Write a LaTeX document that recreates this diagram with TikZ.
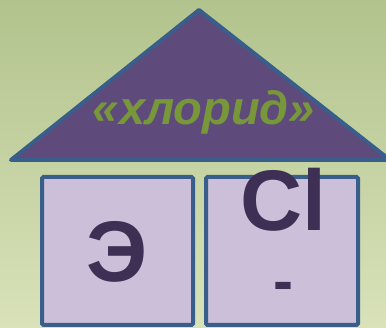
\documentclass[tikz,border=0pt]{standalone}
\usepackage{fontspec}
\setmainfont{Liberation Sans}
\definecolor{bgtop}{HTML}{B2C38D}
\definecolor{bgbot}{HTML}{D9E2B9}
\definecolor{roofc}{HTML}{5F4B7B}
\definecolor{edgec}{HTML}{3A5E8B}
\definecolor{boxc}{HTML}{CBBFD9}
\definecolor{inkc}{HTML}{3E2F54}
\definecolor{greenc}{HTML}{77973A}
\tikzset{
  cell/.style={draw=edgec, fill=boxc, line width=4pt, rounded corners=1.5pt},
  bigtxt/.style={text=inkc, font=\fontsize{86}{86}\selectfont\bfseries, inner sep=0pt},
  roof/.style={draw=edgec, fill=roofc, line width=4pt, line join=round},
}
\begin{document}
\begin{tikzpicture}[x=1pt,y=-1pt]
\shade[top color=bgtop, bottom color=bgbot] (0,0) rectangle (386,328);
\useasboundingbox (0,0) rectangle (386,328);
\coordinate (apex) at (199,10);
\coordinate (bl) at (11,160);
\coordinate (br) at (390,160);
\draw[roof] (apex) -- (br) -- (bl) -- cycle;
\node[anchor=base, inner sep=0pt, text=greenc, font=\fontsize{47}{47}\selectfont\bfseries\itshape] (lbl) at (204,125) {«хлорид»};
\draw[cell] (42,177) rectangle (193,325);
\draw[cell] (206,177) rectangle (358,325);
\node[bigtxt, anchor=base] (e) at (117,282) {Э};
\node[bigtxt, anchor=base] (cl) at (283,231) {Cl};
\node[anchor=base, inner sep=0pt, text=inkc, font=\fontsize{60}{60}\selectfont\bfseries] (minus) at (283,302) {-};
\end{tikzpicture}
\end{document}
